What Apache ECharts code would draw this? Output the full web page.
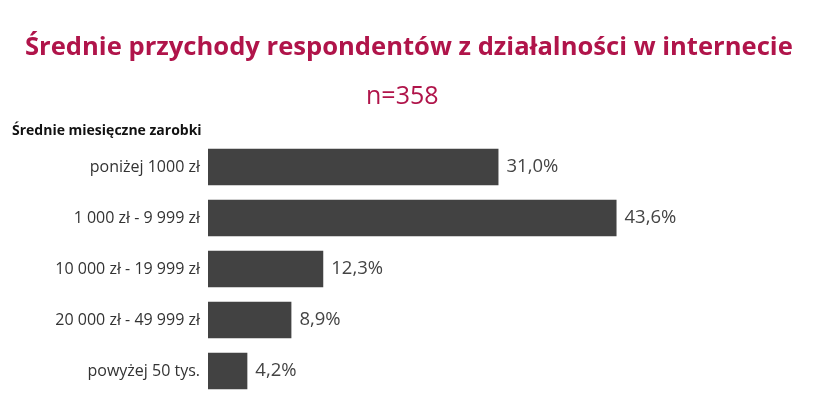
<!DOCTYPE html>
<html><head><meta charset="utf-8">
<script src="https://cdn.jsdelivr.net/npm/echarts@6/dist/echarts.min.js"></script>
<style>html,body{margin:0;padding:0;background:#fff}#c{width:840px;height:400px}</style>
</head><body><div id="c"></div>
<script>
const categories = ['poniżej 1000 zł', '1 000 zł - 9 999 zł', '10 000 zł - 19 999 zł', '20 000 zł - 49 999 zł', 'powyżej 50 tys.'];
const values = [31.0, 43.6, 12.3, 8.9, 4.2];
const titleText = 'Średnie przychody respondentów z działalności w internecie';
const sampleText = 'n=358';
const axisTitle = 'Średnie miesięczne zarobki';

const chart = echarts.init(document.getElementById('c'));
const font = '"Open Sans", sans-serif';
chart.setOption({
  animation: false,
  title: [
    { text: titleText, left: 25, top: 35, padding: 0, textStyle: { color: '#B0144A', fontSize: 25.6, fontWeight: 'bold', fontFamily: font } },
    { text: sampleText, left: 366, top: 84, padding: 0, textStyle: { color: '#B0144A', fontSize: 25, fontWeight: 'normal', fontFamily: font } },
    { text: axisTitle, left: 12, top: 124, padding: 0, textStyle: { color: '#111', fontSize: 14, fontWeight: 'bold', fontFamily: font } }
  ],
  grid: { left: 208, right: 69.8, top: 141.5, bottom: 3.5, containLabel: false },
  xAxis: { type: 'value', min: 0, max: 60, show: false },
  yAxis: {
    type: 'category', data: categories, inverse: true,
    axisLine: { show: false }, axisTick: { show: false },
    axisLabel: { color: '#333', fontSize: 16, fontFamily: font, margin: 8 }
  },
  series: [{
    type: 'bar', data: values, barCategoryGap: '28%',
    itemStyle: { color: '#424242' },
    label: { show: true, position: 'right', distance: 8, color: '#444', fontSize: 18.5, fontFamily: font,
      formatter: p => p.value.toFixed(1).replace('.', ',') + '%' }
  }]
});
</script></body></html>
